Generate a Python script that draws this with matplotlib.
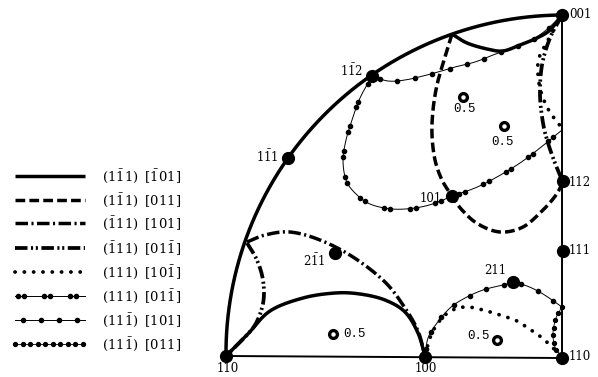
import numpy as np
import matplotlib.pyplot as plt

plt.rcParams['lines.scale_dashes'] = False
plt.rcParams['mathtext.fontset'] = 'dejavuserif'

# stereographic triangle, drawn in image (pixel) coordinates
pole_xy = [(226, 356), (425, 357), (562, 358), (562, 15), (563, 181),
           (563, 251), (372, 76), (288, 158), (452, 196), (335, 253), (513, 282)]
pole_lbl = ['110', '100', '110', '001', '112', '111',
            r'$1\bar{1}2$', r'$1\bar{1}1$', '101', r'$2\bar{1}1$', '211']
lbl_xy = [(228, 369), (426, 369), (569, 356), (569, 15), (569, 182), (569, 250),
          (352, 71), (267, 157), (431, 199), (314, 261), (495, 271)]
lbl_ha = ['center', 'center', 'left', 'left', 'left', 'left',
          'center', 'center', 'center', 'center', 'center']

half_xy = [(463, 97), (504, 126), (333, 334), (497, 340)]
half_val = [0.5, 0.5, 0.5, 0.5]
half_lbl_xy = [(464, 109), (503, 142), (355, 334), (478, 336)]

# slip-trace curves: (style, control points)
curves = [
    ('solid', [(226, 356), (247, 335), (270, 311), (303, 298), (335, 293), (360, 294),
               (385, 300), (405, 312), (418, 333), (425, 356)]),
    ('dashdot', [(247, 242), (265, 235), (290, 232), (320, 240), (353, 257), (385, 282),
                 (405, 308), (418, 331), (425, 356)]),
    ('dashdotdot', [(247, 243), (256, 258), (262, 275), (264, 292), (262, 308),
                    (255, 325), (244, 338), (226, 356)]),
    ('solid', [(452, 34), (467, 43), (487, 49), (503, 51), (520, 45), (537, 38),
               (550, 30), (562, 15)]),
    ('single', [(372, 76), (388, 81), (405, 80), (423, 76), (438, 72), (455, 67),
                (475, 62), (493, 55), (510, 49), (528, 42), (545, 31), (562, 15)]),
    ('dash', [(452, 34), (444, 60), (437, 85), (433, 110), (432, 135), (435, 160),
              (442, 180), (452, 196), (462, 210), (478, 224), (500, 232), (523, 227),
              (543, 210), (556, 195), (563, 182)]),
    ('pair', [(372, 76), (360, 98), (352, 120), (346, 140), (343, 160), (346, 180),
              (355, 193), (370, 204), (392, 209), (415, 208), (436, 203), (452, 196),
              (475, 188), (497, 177), (520, 163), (540, 148), (562, 130)]),
    ('dot', [(562, 15), (548, 40), (539, 58), (538, 75), (541, 92), (547, 107),
             (554, 118), (562, 128)]),
    ('dashdotdot', [(562, 15), (550, 38), (542, 65), (540, 95), (543, 123),
                    (548, 143), (555, 163), (562, 180)]),
    ('single', [(425, 357), (428, 338), (437, 323), (450, 308), (465, 298), (483, 290),
                (503, 285), (513, 283), (527, 286), (543, 294), (562, 307)]),
    ('dot', [(425, 355), (432, 333), (443, 317), (455, 309), (468, 307), (483, 310),
             (500, 315), (515, 320), (528, 328), (541, 337), (551, 346), (562, 357)]),
    ('dense', [(562, 307), (556, 318), (553, 333), (555, 347), (562, 357)]),
]

legend_styles = ['solid', 'dash', 'dashdot', 'dashdotdot', 'dot', 'pair', 'single', 'dense']
legend_text = [r'$(1\bar{1}1)\;\;[\bar{1}01]$', r'$(1\bar{1}1)\;\;[011]$',
               r'$(\bar{1}11)\;\;[101]$', r'$(\bar{1}11)\;\;[01\bar{1}]$',
               r'$(111)\;\;[10\bar{1}]$', r'$(111)\;\;[01\bar{1}]$',
               r'$(11\bar{1})\;\;[101]$', r'$(11\bar{1})\;\;[011]$']
legend_y = [176, 200, 223, 248, 272, 296, 320, 344]


def smooth(pts, n=60):
    P = np.asarray(pts, float)
    P = np.vstack([2 * P[0] - P[1], P, 2 * P[-1] - P[-2]])
    t = np.linspace(0, 1, n, endpoint=False)[:, None]
    out = []
    for i in range(1, len(P) - 2):
        p0, p1, p2, p3 = P[i - 1:i + 3]
        out.append(0.5 * (2 * p1 + (p2 - p0) * t + (2 * p0 - 5 * p1 + 4 * p2 - p3) * t ** 2
                          + (3 * p1 - p0 - 3 * p2 + p3) * t ** 3))
    out.append(P[-2][None])
    return np.vstack(out)


def at_lengths(c, s):
    d = np.r_[0, np.cumsum(np.hypot(*np.diff(c, axis=0).T))]
    s = s[s <= d[-1]]
    return np.interp(s, d, c[:, 0]), np.interp(s, d, c[:, 1])


def arc_len(c):
    return np.hypot(*np.diff(c, axis=0).T).sum()


def draw(ax, c, style):
    x, y = c[:, 0], c[:, 1]
    L = arc_len(c)
    thick = 2.5
    if style == 'solid':
        ax.plot(x, y, 'k-', lw=thick, solid_capstyle='butt')
    elif style == 'dash':
        ax.plot(x, y, 'k', lw=thick, ls=(0, (7, 3)))
    elif style == 'dashdot':
        ax.plot(x, y, 'k', lw=thick, ls=(0, (9, 2.5, 1.5, 2.5)))
    elif style == 'dashdotdot':
        ax.plot(x, y, 'k', lw=2.7, ls=(0, (9, 2.5, 1.5, 2, 1.5, 2.5)))
    elif style == 'dot':
        ax.plot(x, y, 'k', lw=2.7, ls=(0, (0.1, 6.6)), dash_capstyle='round')
    elif style == 'pair':
        ax.plot(x, y, 'k-', lw=0.7)
        s = np.arange(0, L + 1, 26.0)
        mx, my = at_lengths(c, np.sort(np.r_[s + 3, s + 9]))
        ax.plot(mx, my, 'ko', ms=3)
    elif style == 'single':
        ax.plot(x, y, 'k-', lw=0.7)
        mx, my = at_lengths(c, np.arange(8, L, 18.0))
        ax.plot(mx, my, 'ko', ms=3)
    elif style == 'dense':
        ax.plot(x, y, 'k-', lw=0.6)
        mx, my = at_lengths(c, np.arange(0, L + 0.5, 7.5))
        ax.plot(mx, my, 'ko', ms=2.8)


def circle3(a, b, c):
    (x1, y1), (x2, y2), (x3, y3) = a, b, c
    A = np.array([[x2 - x1, y2 - y1], [x3 - x1, y3 - y1]], float)
    B = 0.5 * np.array([x2 ** 2 - x1 ** 2 + y2 ** 2 - y1 ** 2,
                        x3 ** 2 - x1 ** 2 + y3 ** 2 - y1 ** 2])
    cx, cy = np.linalg.solve(A, B)
    return cx, cy, np.hypot(x1 - cx, y1 - cy)


fig = plt.figure(figsize=(5.98, 3.77), dpi=100)
ax = fig.add_axes([0, 0, 1, 1])
ax.set_xlim(0, 598)
ax.set_ylim(377, 0)
ax.axis('off')

# triangle boundary: great circle 110-1-11-001 plus the two straight edges
p110, p100, p110r, p001 = pole_xy[0], pole_xy[1], pole_xy[2], pole_xy[3]
cx, cy, r = circle3(p110, pole_xy[7], p001)
t0 = np.arctan2(p110[1] - cy, p110[0] - cx) % (2 * np.pi)
t1 = np.arctan2(p001[1] - cy, p001[0] - cx) % (2 * np.pi)
th = np.linspace(t0, t1, 200)
ax.plot(cx + r * np.cos(th), cy + r * np.sin(th), 'k-', lw=2.5)
ax.plot([p110[0], p110r[0]], [p110[1], p110r[1]], 'k-', lw=1.4)
ax.plot([p001[0], p110r[0]], [p001[1], p110r[1]], 'k-', lw=1.4)

for style, pts in curves:
    draw(ax, smooth(pts), style)

px, py = zip(*pole_xy)
ax.plot(px, py, 'ko', ms=8.5)
for (x, y), s, ha in zip(lbl_xy, pole_lbl, lbl_ha):
    ax.text(x, y, s, ha=ha, va='center', fontsize=8.5, family='DejaVu Serif')

hx, hy = zip(*half_xy)
ax.plot(hx, hy, 'ko', ms=7)
ax.plot(hx, hy, 'o', color='white', ms=2.2)
for (x, y), v in zip(half_lbl_xy, half_val):
    ax.text(x, y, f'{v}', ha='center', va='center', fontsize=9, family='Liberation Mono')

for st, txt, y in zip(legend_styles, legend_text, legend_y):
    seg = np.column_stack([np.linspace(15, 85, 50), np.full(50, y)])
    draw(ax, seg, st)
    ax.text(102, y, txt, ha='left', va='center', fontsize=9.5)

fig.savefig('out.png', dpi=100)
